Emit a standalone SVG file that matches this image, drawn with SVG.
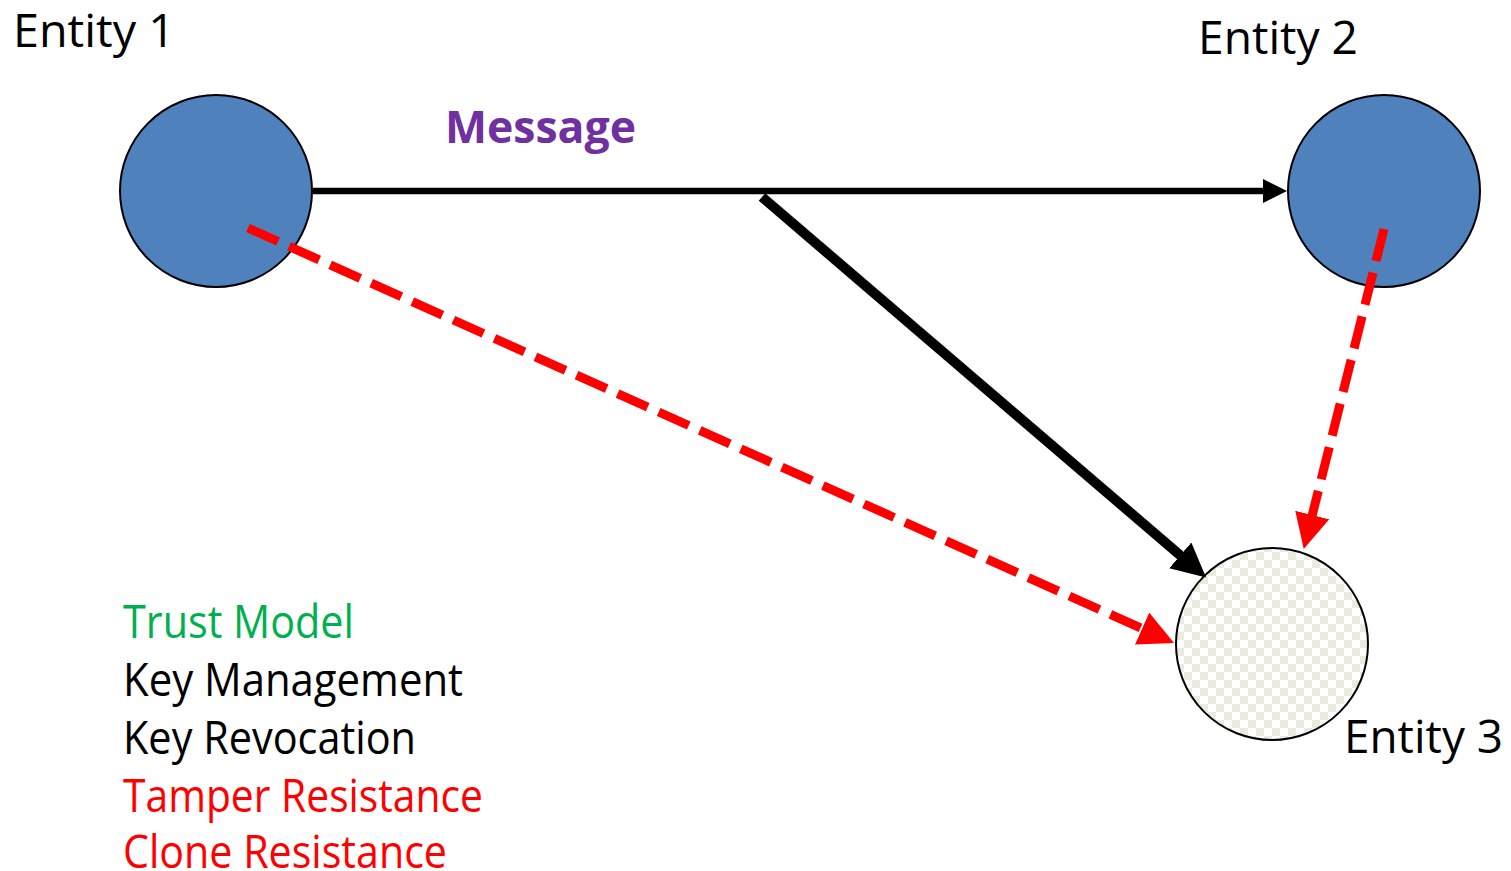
<svg xmlns="http://www.w3.org/2000/svg" width="1511" height="871" viewBox="0 0 1511 871">
  <style>
    .lbl { font-family: "Open Sans", "Liberation Sans", sans-serif; font-size: 45px; fill: #000000; }
    .node { stroke: #000000; stroke-width: 2; }
    .blue { fill: #4F81BD; }
    .msg { stroke: #000000; stroke-width: 6.5; fill: none; }
    .fwd { stroke: #000000; stroke-width: 10; fill: none; }
    .attack { stroke: #FF0000; stroke-width: 9; fill: none; stroke-dasharray: 33 12; }
  </style>
  <defs>
    <pattern id="checker" patternUnits="userSpaceOnUse" width="16" height="16">
      <rect x="0" y="0" width="16" height="16" fill="#FFFFFF"/>
      <rect x="0" y="0" width="8" height="8" fill="#ECE9DF"/>
      <rect x="8" y="8" width="8" height="8" fill="#ECE9DF"/>
    </pattern>
    <marker id="headSmall" markerUnits="userSpaceOnUse" viewBox="0 0 24 24" markerWidth="24" markerHeight="24" refX="1" refY="12" orient="auto">
      <path d="M0,0 L24,12 L0,24 Z" fill="#000000"/>
    </marker>
    <marker id="headLarge" markerUnits="userSpaceOnUse" viewBox="0 0 34 34" markerWidth="34" markerHeight="34" refX="1" refY="17" orient="auto">
      <path d="M0,0 L34,17 L0,34 Z" fill="#000000"/>
    </marker>
    <marker id="headRed" markerUnits="userSpaceOnUse" viewBox="0 0 35 35" markerWidth="35" markerHeight="35" refX="1" refY="17.5" orient="auto">
      <path d="M0,0 L35,17.5 L0,35 Z" fill="#FF0000"/>
    </marker>
  </defs>

  <g id="entity1">
    <circle class="node blue" cx="216" cy="191" r="96"/>
    <text class="lbl" x="13" y="47" textLength="162" lengthAdjust="spacingAndGlyphs">Entity 1</text>
  </g>
  <g id="entity2">
    <circle class="node blue" cx="1384" cy="191" r="96"/>
    <text class="lbl" x="1198" y="54" textLength="160" lengthAdjust="spacingAndGlyphs">Entity 2</text>
  </g>
  <g id="entity3">
    <circle class="node" cx="1272" cy="644" r="96" fill="url(#checker)"/>
    <text class="lbl" x="1344" y="753" textLength="159" lengthAdjust="spacingAndGlyphs">Entity 3</text>
  </g>

  <g id="connectors">
    <!-- message from Entity 1 to Entity 2 -->
    <line class="msg" x1="312" y1="191" x2="1264" y2="191" marker-end="url(#headSmall)"/>
    <text x="445" y="143" font-family="'Open Sans', 'Liberation Sans', sans-serif" font-size="45" font-weight="bold" fill="#7030A0" textLength="191" lengthAdjust="spacingAndGlyphs">Message</text>
    <!-- forwarded copy branching to Entity 3 -->
    <line class="fwd" x1="762" y1="197" x2="1181" y2="556" marker-end="url(#headLarge)"/>
    <!-- dashed red links to Entity 3 -->
    <line class="attack" x1="248" y1="228" x2="1143" y2="629" marker-end="url(#headRed)"/>
    <line class="attack" x1="1384" y1="229" x2="1312" y2="516" marker-end="url(#headRed)"/>
  </g>

  <g id="legend">
    <text class="lbl" x="123" y="638" style="fill:#00B050" textLength="231" lengthAdjust="spacingAndGlyphs">Trust Model</text>
    <text class="lbl" x="123" y="696" textLength="340" lengthAdjust="spacingAndGlyphs">Key Management</text>
    <text class="lbl" x="123" y="754" textLength="293" lengthAdjust="spacingAndGlyphs">Key Revocation</text>
    <text class="lbl" x="123" y="812" style="fill:#FF0000" textLength="360" lengthAdjust="spacingAndGlyphs">Tamper Resistance</text>
    <text class="lbl" x="123" y="868" style="fill:#FF0000" textLength="324" lengthAdjust="spacingAndGlyphs">Clone Resistance</text>
  </g>
</svg>
